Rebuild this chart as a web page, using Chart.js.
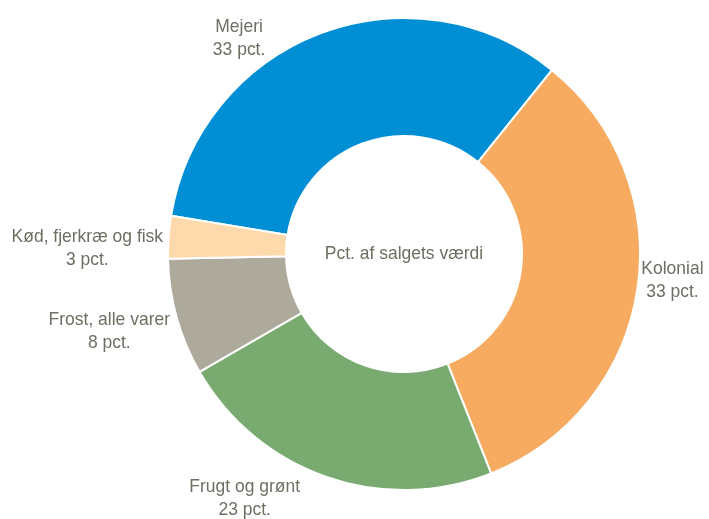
<!DOCTYPE html>
<html>
<head>
<meta charset="utf-8">
<script src="https://cdn.jsdelivr.net/npm/chart.js@4.4.1/dist/chart.umd.min.js"></script>
<style>
    html, body { margin: 0; padding: 0; background: #ffffff; }
    #wrap { width: 709px; height: 519px; }
</style>
</head>
<body>
<div id="wrap"><canvas id="chart" width="709" height="519"></canvas></div>
<script>
// data
let categories = ['Mejeri', 'Kolonial', 'Frugt og grønt', 'Frost, alle varer', 'Kød, fjerkræ og fisk'];
let shares = [33.2, 33.2, 22.7, 8.0, 2.9];
let centerText = 'Pct. af salgets værdi';

let colors = ['#008fd5', '#f6ab61', '#79aa6f', '#adaa9b', '#fdd9ac'];
let textColor = '#6e6e63';
let fontFamily = '"Liberation Sans", Arial, sans-serif';
let narrow = 0.92; // squeeze Liberation Sans towards Arial Narrow

// label placement: nudge (degrees) from the slice middle, distance as share of outer radius
let labelNudge = [-16.4, -2.9, 13.9, 0.84, -3.1];
let labelDist = [1.152, 1.143, 1.236, 1.291, 1.342];

function narrowText(ctx, text, x, y) {
    ctx.save();
    ctx.translate(x, y);
    ctx.scale(narrow, 1);
    ctx.fillText(text, 0, 0);
    ctx.restore();
}

const labelPlugin = {
    id: 'outerLabels',
    afterDatasetsDraw(chart) {
        let ctx = chart.ctx;
        let arcs = chart.getDatasetMeta(0).data;
        ctx.save();
        ctx.fillStyle = textColor;
        ctx.font = '19px ' + fontFamily;
        ctx.textAlign = 'center';
        ctx.textBaseline = 'middle';
        arcs.forEach((arc, i) => {
            let mid = (arc.startAngle + arc.endAngle) / 2 + labelNudge[i] * Math.PI / 180;
            let r = arc.outerRadius * labelDist[i];
            let x = arc.x + Math.cos(mid) * r;
            let y = arc.y + Math.sin(mid) * r;
            narrowText(ctx, categories[i], x, y - 11.5);
            narrowText(ctx, Math.round(shares[i]) + ' pct.', x, y + 11.5);
        });
        let a = arcs[0];
        narrowText(ctx, centerText, a.x, a.y);
        ctx.restore();
    }
};

let chart = new Chart(document.getElementById('chart'), {
    type: 'doughnut',
    data: {
        labels: categories,
        datasets: [{
            data: shares,
            backgroundColor: colors,
            borderColor: '#ffffff',
            borderWidth: 2
        }]
    },
    options: {
        responsive: false,
        animation: false,
        rotation: 279.3,
        cutout: '50%',
        layout: {
            padding: {left: 167, right: 68, top: 17, bottom: 28}
        },
        plugins: {
            legend: {display: false},
            tooltip: {enabled: false}
        }
    },
    plugins: [labelPlugin]
});
</script>
</body>
</html>
